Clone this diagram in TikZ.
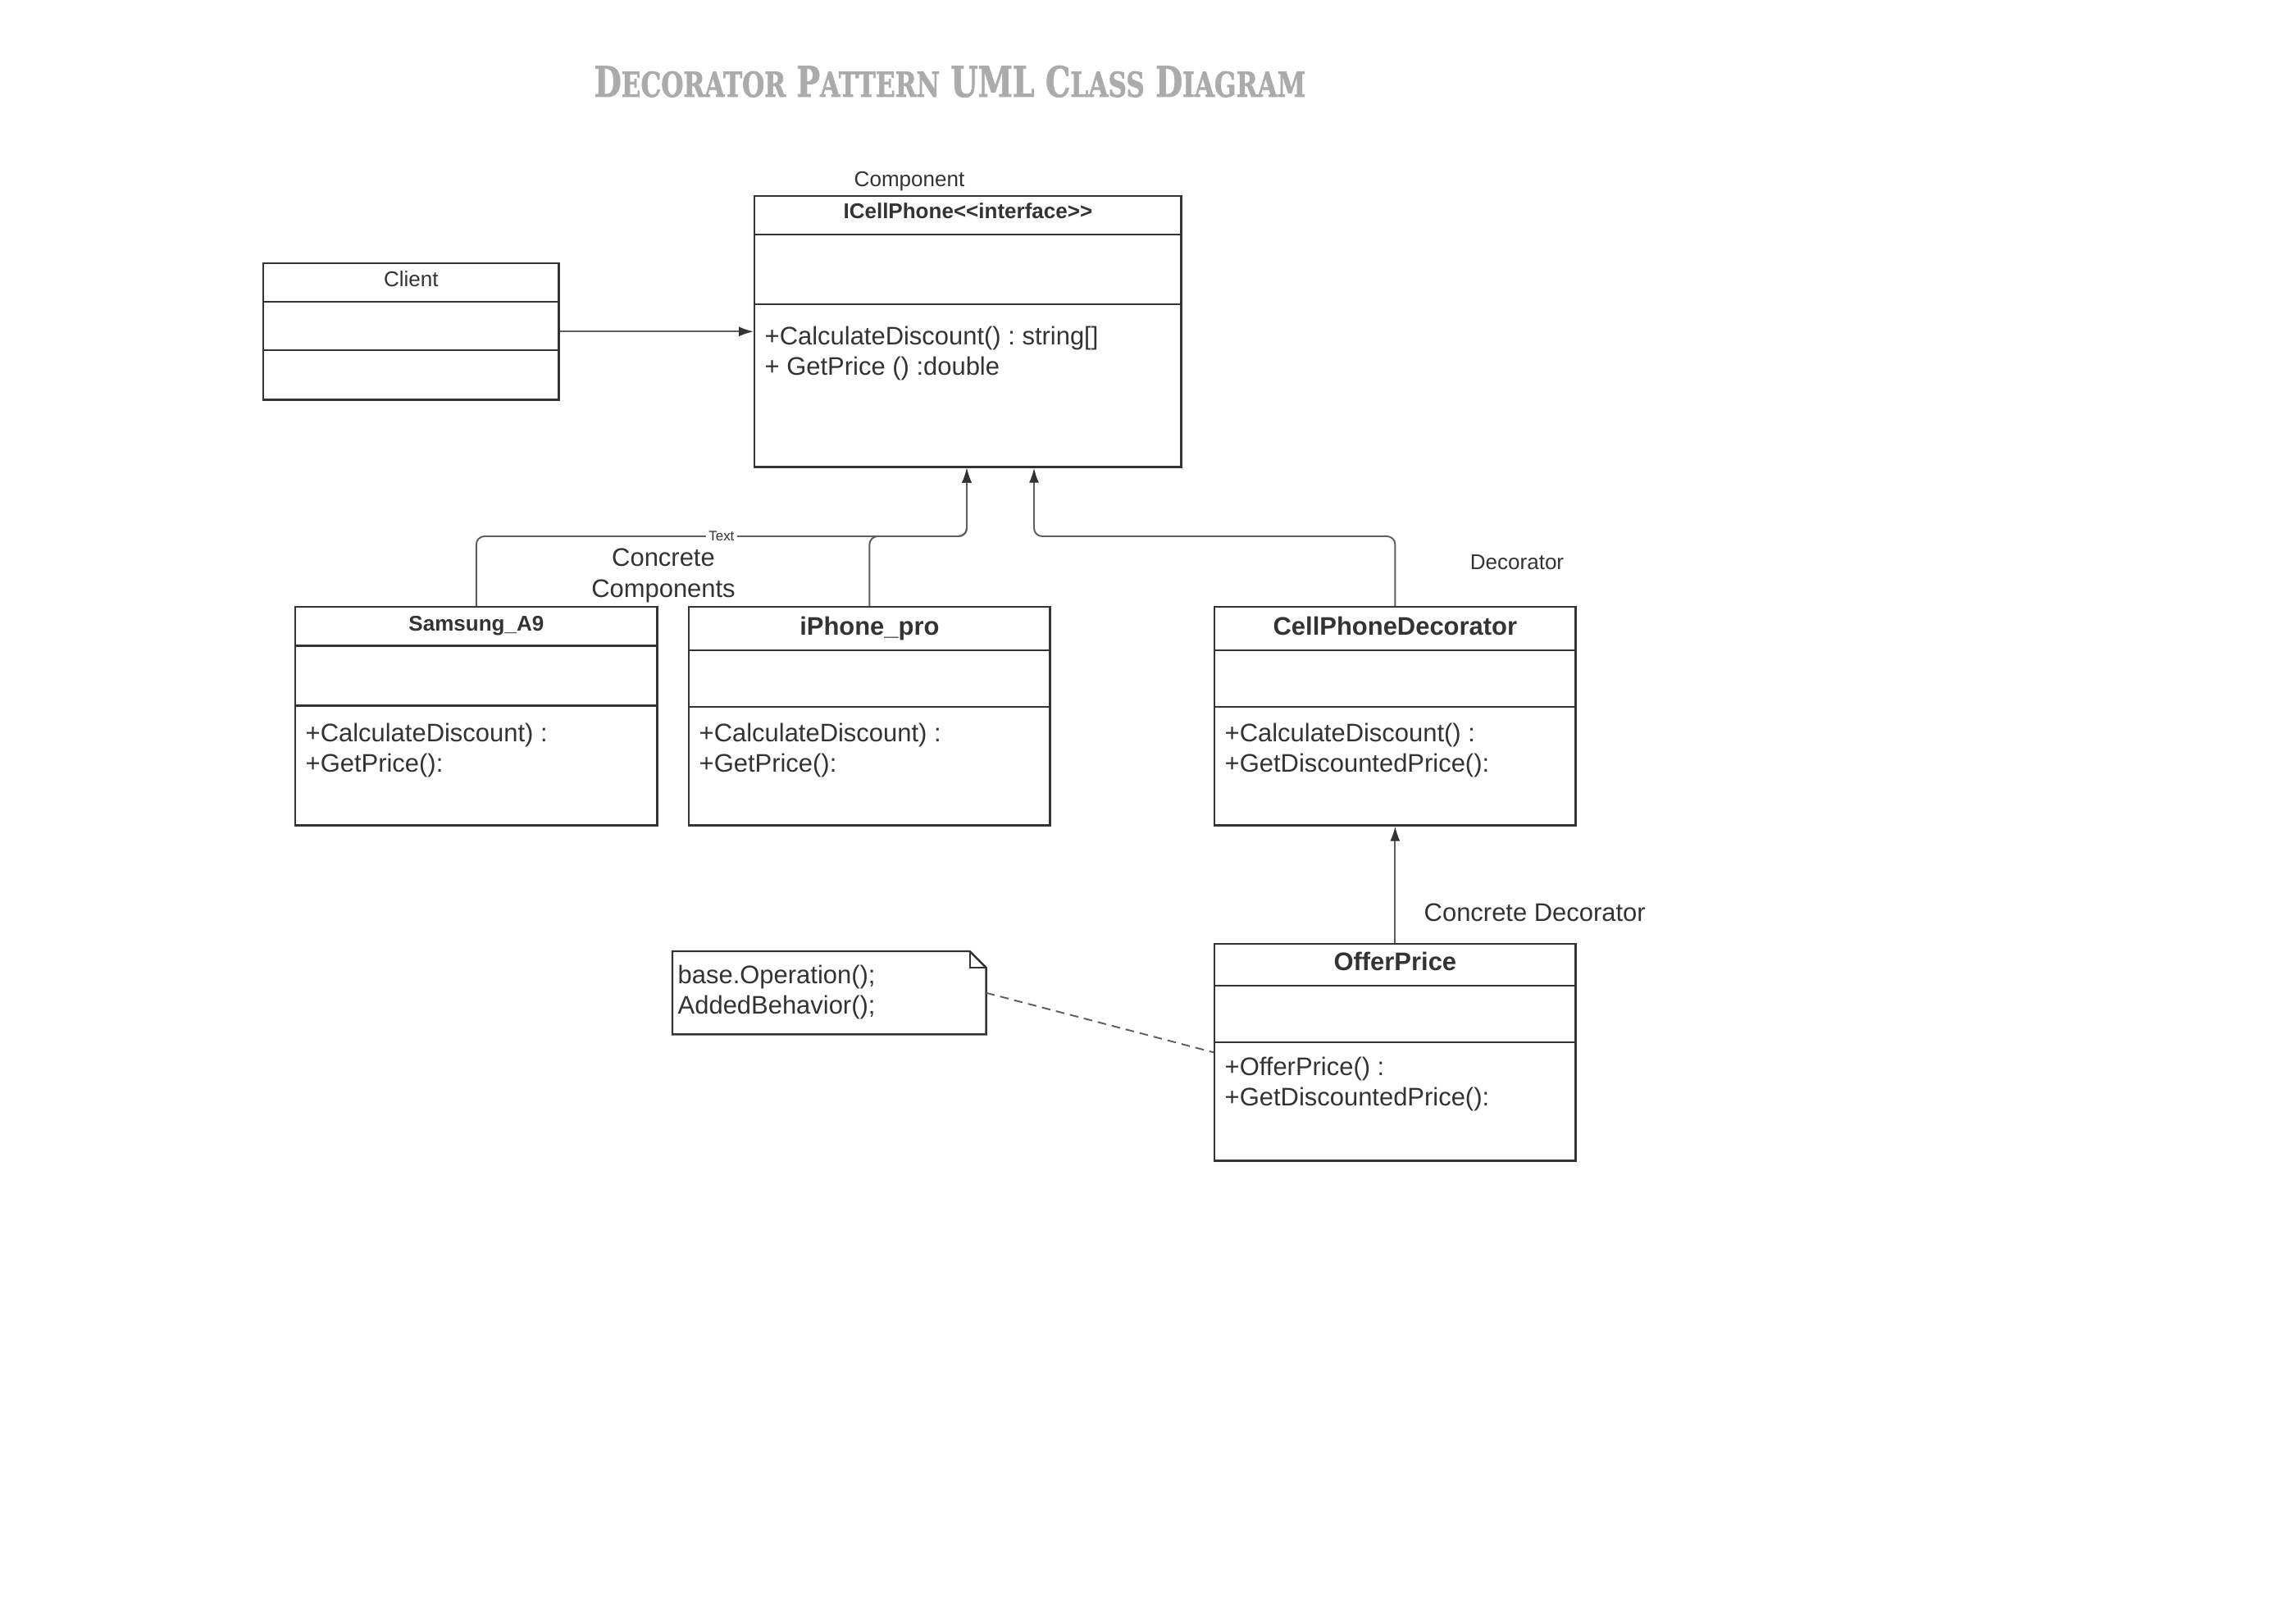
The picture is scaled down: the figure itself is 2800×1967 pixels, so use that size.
\documentclass[tikz,border=0pt]{standalone}
\usepackage{fontspec}
\usepackage{graphicx}
\setmainfont{Liberation Sans}
\newfontfamily\ttlfont[BoldFeatures={FakeBold=1.6}]{DejaVu Serif}
\usetikzlibrary{arrows.meta}
\frenchspacing
\definecolor{boxc}{HTML}{333333}
\definecolor{linec}{HTML}{5E5E5E}
\definecolor{ttlc}{HTML}{ABABAB}
\newcommand\fsmall{\fontsize{7.4pt}{9pt}\selectfont}
\newcommand\fmed{\fontsize{8.8pt}{10.7pt}\selectfont}
\newcommand\ftiny{\fontsize{4.8pt}{5.5pt}\selectfont}
\newcommand\tsc[2]{{\fontsize{12pt}{12pt}\selectfont #1}{\fontsize{9.8pt}{10pt}\selectfont #2}}
\begin{document}
\begin{tikzpicture}[x=0.01cm, y=-0.01cm,
  cls/.style={draw=boxc, line width=0.7pt, fill=white, inner sep=0pt, anchor=north west},
  cline/.style={draw=boxc, line width=0.7pt},
  hdr/.style={inner sep=0pt, anchor=base, text=boxc},
  txt/.style={inner sep=0pt, anchor=base west, text=boxc, font=\fmed},
  lbl/.style={inner sep=0pt, anchor=base, text=boxc},
  conn/.style={draw=linec, line width=0.55pt, rounded corners=0.1cm},
  arr/.style={-{Latex[length=0.18cm,width=0.12cm,color=boxc]}},
  tlbl/.style={inner sep=1pt, fill=white, text=boxc, font=\ftiny}
]
\useasboundingbox (0,0) rectangle (2800,1967);
\fill[white] (0,0) rectangle (2800,1967);

% title
\node[inner sep=0pt, anchor=base west, text=ttlc] (title) at (724,118)
  {\resizebox{8.67cm}{0.38cm}{\ttlfont\bfseries\fontsize{12pt}{12pt}\selectfont \tsc{D}{ECORATOR} \tsc{P}{ATTERN} \tsc{UML}{} \tsc{C}{LASS} \tsc{D}{IAGRAM}}};

% Client
\node[cls, minimum width=3.6cm, minimum height=1.66cm] (client) at (320,320) {};
\draw[cline] (client.west |- 0,368) -- (client.east |- 0,368);
\draw[cline] (client.west |- 0,427) -- (client.east |- 0,427);
\node[hdr, font=\fsmall] (clientT) at (client.north |- 0,350) {Client};

% ICellPhone
\node[lbl, font=\fsmall] (compL) at (1109,228) {Component};
\node[cls, minimum width=5.2cm, minimum height=3.3cm] (icell) at (919,238) {};
\draw[cline] (icell.west |- 0,286) -- (icell.east |- 0,286);
\draw[cline] (icell.west |- 0,371) -- (icell.east |- 0,371);
\node[hdr, font=\fsmall\bfseries] (icellT) at (icell.north |- 0,267) {ICellPhone<{}<interface>{}>};
\node[txt] (icellM1) at (932,420) {+CalculateDiscount() : string[]};
\node[txt] (icellM2) at (932,457.5) {+ GetPrice () :double};

% Samsung
\node[cls, minimum width=4.41cm, minimum height=2.66cm] (samsung) at (359,739) {};
\draw[cline] (samsung.west |- 0,787.5) -- (samsung.east |- 0,787.5);
\draw[cline] (samsung.west |- 0,860.5) -- (samsung.east |- 0,860.5);
\node[hdr, font=\fsmall\bfseries] (samsungT) at (samsung.north |- 0,769) {Samsung\_A9};
\node[txt] (samsungM1) at (372,904) {+CalculateDiscount) :};
\node[txt] (samsungM2) at (372,941.5) {+GetPrice():};

% iPhone
\node[cls, minimum width=4.4cm, minimum height=2.66cm] (iphone) at (839,739) {};
\draw[cline] (iphone.west |- 0,793) -- (iphone.east |- 0,793);
\draw[cline] (iphone.west |- 0,862) -- (iphone.east |- 0,862);
\node[hdr, font=\fmed\bfseries] (iphoneT) at (iphone.north |- 0,774) {iPhone\_pro};
\node[txt] (iphoneM1) at (852,904) {+CalculateDiscount) :};
\node[txt] (iphoneM2) at (852,941.5) {+GetPrice():};

% CellPhoneDecorator
\node[lbl, font=\fsmall] (decL) at (1850,694) {Decorator};
\node[cls, minimum width=4.4cm, minimum height=2.66cm] (dec) at (1480,739) {};
\draw[cline] (dec.west |- 0,793) -- (dec.east |- 0,793);
\draw[cline] (dec.west |- 0,862) -- (dec.east |- 0,862);
\node[hdr, font=\fmed\bfseries] (decT) at (dec.north |- 0,774) {CellPhoneDecorator};
\node[txt] (decM1) at (1493,904) {+CalculateDiscount() :};
\node[txt] (decM2) at (1493,941.5) {+GetDiscountedPrice():};

% OfferPrice
\node[txt] (cdecL) at (1736,1123) {Concrete Decorator};
\node[cls, minimum width=4.4cm, minimum height=2.64cm] (offer) at (1480,1150) {};
\draw[cline] (offer.west |- 0,1202) -- (offer.east |- 0,1202);
\draw[cline] (offer.west |- 0,1271) -- (offer.east |- 0,1271);
\node[hdr, font=\fmed\bfseries] (offerT) at (offer.north |- 0,1183) {OfferPrice};
\node[txt] (offerM1) at (1493,1311) {+OfferPrice() :};
\node[txt] (offerM2) at (1493,1348.5) {+GetDiscountedPrice():};

% Note
\node[inner sep=0pt, anchor=north west, minimum width=3.81cm, minimum height=1.0cm] (note) at (820,1160) {};
\draw[cline, fill=white] (note.north west) -- ([xshift=-0.2cm]note.north east) -- ([yshift=-0.2cm]note.north east) -- (note.south east) -- (note.south west) -- cycle;
\draw[cline, line width=0.5pt] ([xshift=-0.2cm]note.north east) |- ([yshift=-0.2cm]note.north east);
\node[txt] (noteM1) at (826,1199) {base.Operation();};
\node[txt] (noteM2) at (826,1236.5) {AddedBehavior();};

% Concrete Components label
\node[lbl, font=\fmed] (ccL1) at (809,690) {Concrete};
\node[lbl, font=\fmed] (ccL2) at (809,728) {Components};

% connectors
\coordinate (jA) at (1179,654);
\coordinate (jB) at (1261,654);
\draw[conn, arr] (client.east) -- (client.east -| icell.west);
\draw[conn, arr] (iphone.north) |- (jA) -- (jA |- icell.south);
\draw[conn, arr] (samsung.north) |- node[pos=0.75, tlbl] (txtL) {Text} (jA) -- (jA |- icell.south);
\draw[conn, arr] (dec.north) |- (jB) -- (jB |- icell.south);
\draw[conn, arr] (offer.north) -- (dec.south);
\draw[conn, dashed, dash pattern=on 3pt off 2pt] (note.east) -- (offer.west);
\end{tikzpicture}
\end{document}
